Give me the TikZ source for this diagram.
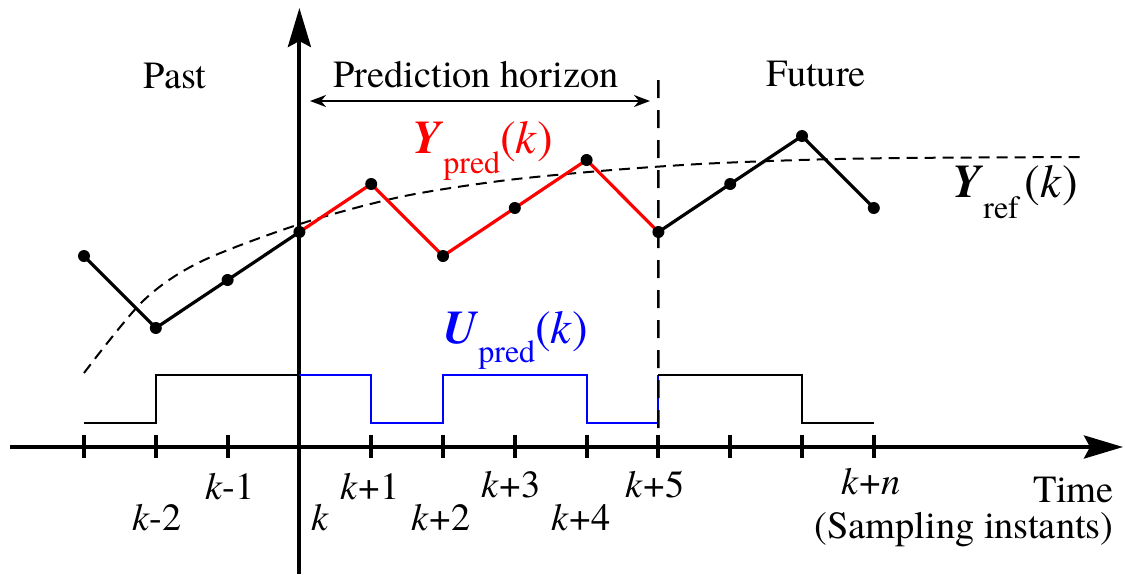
\documentclass[tikz,border=0pt]{standalone}
\usepackage{fontspec}
\setmainfont{TeX Gyre Termes}
\usetikzlibrary{arrows.meta}
\begin{document}
\begin{tikzpicture}[x=0.5pt,y=-0.5pt,
  axisline/.style={line width=2pt,-{Stealth[length=19.5pt,width=11.5pt,inset=3pt]}},
  tickmark/.style={line width=2pt},
  dataline/.style={line width=1.6pt,line join=round},
  predline/.style={dataline,red},
  sigline/.style={line width=1pt},
  upredline/.style={sigline,blue},
  refcurve/.style={line width=1pt,dash pattern=on 5.5pt off 3.5pt},
  nowline/.style={line width=1.2pt,dash pattern=on 9pt off 6pt},
  horizon/.style={line width=1pt,{Stealth[length=8pt,width=6pt,inset=2.5pt]}-{Stealth[length=8pt,width=6pt,inset=2.5pt]}},
  dot/.style={circle,fill=black,inner sep=0pt,minimum size=6pt},
  lbl/.style={font=\fontsize{19.2}{20}\selectfont,inner sep=0pt},
  big/.style={inner sep=0pt}
]
\useasboundingbox (0,0) rectangle (1125,574);

% axes
\coordinate (hl) at (10,447);
\coordinate (hr) at (1123,447);
\coordinate (vb) at (299.4,574);
\coordinate (vt) at (299.4,8);
\draw[axisline] (hl) -- (hr);
\draw[axisline] (vb) -- (vt);

% ticks
\foreach \i in {0,...,11}{
  \coordinate (t\i) at ({84+71.8*\i},447);
  \coordinate (ta\i) at ({84+71.8*\i},435);
  \coordinate (tb\i) at ({84+71.8*\i},458);
  \draw[tickmark] (ta\i) -- (tb\i);
}

% input signal
\coordinate (s0) at (84,423);
\coordinate (s1) at (155.8,423);
\coordinate (s2) at (155.8,375);
\coordinate (s3) at (299.4,375);
\coordinate (s4) at (371.2,375);
\coordinate (s5) at (371.2,423);
\coordinate (s6) at (443,423);
\coordinate (s7) at (443,375);
\coordinate (s8) at (586.6,375);
\coordinate (s9) at (586.6,423);
\coordinate (s10) at (658.4,423);
\coordinate (s11) at (658.4,375);
\coordinate (s12) at (802,375);
\coordinate (s13) at (802,423);
\coordinate (s14) at (873.8,423);
\draw[sigline] (s0) -- (s1) -- (s2) -- (s3);
\draw[upredline] (s3) -- (s4) -- (s5) -- (s6) -- (s7) -- (s8) -- (s9) -- (s10) -- (s11);
\draw[sigline] (s11) -- (s12) -- (s13) -- (s14);

% reference trajectory
\draw[refcurve] plot[smooth] coordinates {(84,373) (143,301) (200,262) (300,224) (400,197) (500,181) (600,171) (700,164) (800,160) (900,158) (1085,157)};

% now line
\coordinate (nt) at (658.4,80);
\draw[nowline] (nt) -- (t8);

% outputs
\coordinate (p0) at (84,256);
\coordinate (p1) at (155.8,328);
\coordinate (p2) at (227.6,280);
\coordinate (p3) at (299.4,232);
\coordinate (p4) at (371.2,184);
\coordinate (p5) at (443,256);
\coordinate (p6) at (514.8,208);
\coordinate (p7) at (586.6,160);
\coordinate (p8) at (658.4,232);
\coordinate (p9) at (730.2,184);
\coordinate (p10) at (802,136);
\coordinate (p11) at (873.8,208);
\draw[dataline] (p0) -- (p1) -- (p2) -- (p3);
\draw[predline] (p3) -- (p4) -- (p5) -- (p6) -- (p7) -- (p8);
\draw[dataline] (p8) -- (p9) -- (p10) -- (p11);
\foreach \i in {0,...,11}{ \node[dot] (d\i) at (p\i) {}; }

% prediction horizon
\coordinate (phl) at (310,101);
\coordinate (phr) at (650,101);
\draw[horizon] (phl) -- (phr);

% region labels
\node[lbl,anchor=base] (past) at (175,88) {Past};
\node[lbl,anchor=base] (ph) at (476,87) {Prediction horizon};
\node[lbl,anchor=base] (fut) at (816,86) {Future};

% signal labels
\node[big,anchor=base west,text=red] (ypred) at (412,153)
  {\fontsize{23.5}{24}\selectfont\textbf{\textit{Y}}\raisebox{-10pt}{\fontsize{16}{16}\selectfont pred}(\textit{k})};
\node[big,anchor=base west] (yref) at (952,197)
  {\fontsize{23.5}{24}\selectfont\textbf{\textit{Y}}\raisebox{-10.5pt}{\fontsize{16}{16}\selectfont ref}\hspace{3pt}(\textit{k})};
\node[big,anchor=base west,text=blue] (upred) at (443,343)
  {\fontsize{23.5}{24}\selectfont\textbf{\textit{U}}\raisebox{-9.5pt}{\fontsize{16}{16}\selectfont pred}(\textit{k})};

% tick labels
\node[lbl,anchor=base] (lkm2) at (157,530) {\textit{k}-2};
\node[lbl,anchor=base] (lkm1) at (230,499) {\textit{k}-1};
\node[lbl,anchor=base] (lk) at (320,530) {\textit{k}};
\node[lbl,anchor=base] (lk1) at (370,499) {\textit{k}+1};
\node[lbl,anchor=base] (lk2) at (441,530) {\textit{k}+2};
\node[lbl,anchor=base] (lk3) at (511,497) {\textit{k}+3};
\node[lbl,anchor=base] (lk4) at (581,530) {\textit{k}+4};
\node[lbl,anchor=base] (lk5) at (655,497) {\textit{k}+5};
\node[lbl,anchor=base] (lkn) at (871,494) {\textit{k}+\textit{n}};

% time axis label
\node[lbl,anchor=base east] (time) at (1114,502) {Time};
\node[lbl,anchor=base east] (samp) at (1114,538) {(Sampling instants)};
\end{tikzpicture}
\end{document}
